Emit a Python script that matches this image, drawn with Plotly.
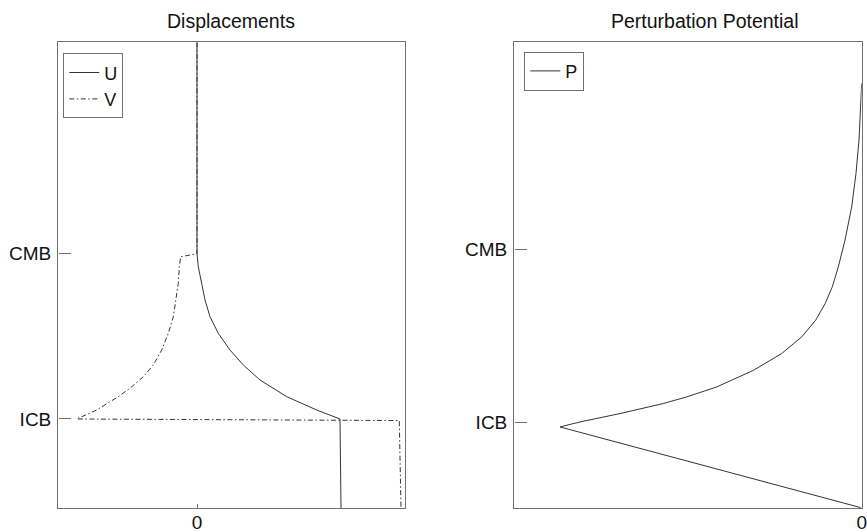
import plotly.graph_objects as go

# ---- data (radius in km, displacement / potential in arbitrary units) ----
U_r = [6371, 3480, 3303, 3076, 2848, 2619, 2392, 2164, 1959, 1754, 1526, 1344, 1221, 0]
U_x = [0, 0, 0.013, 0.047, 0.08, 0.13, 0.213, 0.33, 0.463, 0.63, 0.897, 1.197, 1.43, 1.44]

V_r = [6371, 3480, 3440, 3303, 3076, 2848, 2619, 2392, 2164, 1959, 1799, 1641, 1526, 1344, 1221, 1200, 0]
V_x = [0, 0, -0.163, -0.177, -0.187, -0.21, -0.237, -0.287, -0.353, -0.437, -0.537, -0.67, -0.787,
       -1.003, -1.203, 2.023, 2.04]

P_r = [5640, 5335, 4901, 4467, 4031, 3597, 3249, 2989, 2772, 2555, 2337, 2121, 1903, 1685,
       1555, 1469, 1338, 1229, 1164, 113]
P_x = [0, -0.01, -0.027, -0.057, -0.10, -0.167, -0.234, -0.294, -0.365, -0.46, -0.60,
       -0.80, -1.08, -1.45, -1.75, -1.984, -2.417, -2.817, -3.017, -0.01]

boundary_r = [1221, 3480]
boundary_lbl = ["ICB", "CMB"]
x_tick = [0]
x_tick_lbl = ["0"]
titles = ["Displacements", "Perturbation Potential"]

W, H = 867, 532
FONT = "Liberation Sans, Arial, sans-serif"
LINE = "#333333"
FRAME = "#707070"

fig = go.Figure()
fig.add_trace(go.Scatter(x=U_x, y=U_r, mode="lines", name="U",
                         line=dict(color=LINE, width=1), xaxis="x", yaxis="y", legend="legend"))
fig.add_trace(go.Scatter(x=V_x, y=V_r, mode="lines", name="V",
                         line=dict(color=LINE, width=1, dash="5px,2.5px,1.5px,2.5px"),
                         xaxis="x", yaxis="y", legend="legend"))
fig.add_trace(go.Scatter(x=P_x, y=P_r, mode="lines", name="P",
                         line=dict(color=LINE, width=1), xaxis="x2", yaxis="y2", legend="legend2"))

def px_x(p):
    return p / W

def px_y(p):
    return 1 - p / H

axis_common = dict(showline=True, mirror=True, linecolor=FRAME, linewidth=1.4, automargin=False,
                   showgrid=False, zeroline=False, ticks="inside", tickcolor=FRAME,
                   tickfont=dict(family=FONT, size=19, color="#111"))

fig.update_layout(
    width=W, height=H,
    margin=dict(l=0, r=0, t=0, b=0, autoexpand=False),
    paper_bgcolor="white", plot_bgcolor="white",
    font=dict(family=FONT, size=19, color="#111"),
    xaxis=dict(domain=[px_x(58.3), px_x(405)], range=[-1.387, 2.08], anchor="y",
               tickvals=x_tick, ticktext=x_tick_lbl, ticklen=4, ticklabelstandoff=-3, **axis_common),
    yaxis=dict(domain=[px_y(508.3), px_y(42.3)], range=[0, 6371], anchor="x",
               tickvals=boundary_r, ticktext=boundary_lbl, ticklen=12, ticklabelstandoff=2, **axis_common),
    xaxis2=dict(domain=[px_x(514.3), px_x(861.7)], range=[-3.474, 0], anchor="y2",
                tickvals=x_tick, ticktext=x_tick_lbl, ticklen=4, ticklabelstandoff=-3, **axis_common),
    yaxis2=dict(domain=[px_y(508.3), px_y(42.3)], range=[104, 6175], anchor="x2",
                tickvals=boundary_r, ticktext=boundary_lbl, ticklen=12, ticklabelstandoff=2, **axis_common),
    legend=dict(x=px_x(63.3), y=px_y(53.3), xanchor="left", yanchor="top",
                bordercolor=FRAME, borderwidth=1, bgcolor="white",
                font=dict(family=FONT, size=18, color="#111"), itemwidth=30,
                tracegroupgap=0),
    legend2=dict(x=px_x(524.3), y=px_y(51.7), xanchor="left", yanchor="top",
                 bordercolor=FRAME, borderwidth=1, bgcolor="white",
                 font=dict(family=FONT, size=18, color="#111"), itemwidth=30),
    showlegend=True,
    annotations=[
        dict(text=titles[0], x=px_x(231), y=px_y(21), xref="paper", yref="paper",
             showarrow=False, xanchor="center", yanchor="middle",
             font=dict(family=FONT, size=19.5, color="#111")),
        dict(text=titles[1], x=px_x(705), y=px_y(21), xref="paper", yref="paper",
             showarrow=False, xanchor="center", yanchor="middle",
             font=dict(family=FONT, size=19.5, color="#111")),
    ],
)

fig.write_html("out.html", config={"displayModeBar": False},
               post_script="document.body.style.margin='0px';document.body.style.overflow='hidden';")
